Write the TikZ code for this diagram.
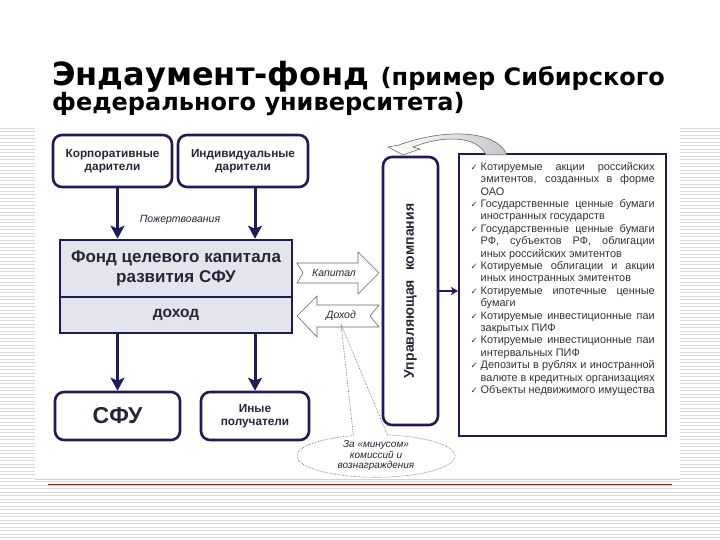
\documentclass[tikz,border=0pt]{standalone}
\usepackage{fontspec}
\setmainfont{Liberation Sans}
\newfontfamily\titlefont{DejaVu Sans}
\newfontfamily\checkfont{DejaVu Sans}
\usetikzlibrary{arrows.meta,positioning,shapes.callouts,calc}
\definecolor{navyline}{RGB}{28,28,92}
\definecolor{inkdark}{RGB}{38,38,58}
\definecolor{fundgray}{RGB}{228,228,236}
\definecolor{stripegray}{RGB}{218,218,218}
\definecolor{rulered}{RGB}{150,30,30}
\newcommand{\chkitem}{\par\hangindent=10pt\hangafter=1\noindent\hbox to 10pt{\checkfont\fontsize{8.5}{10}\selectfont ✓\hss}}

\begin{document}
\begin{tikzpicture}[
  x=1pt, y=-1pt,
  font=\fontsize{11.8}{13.5}\selectfont\bfseries,
  box/.style={draw=navyline, line width=2.6pt, rounded corners=9pt, align=center, text=inkdark, inner sep=2pt},
  fundbox/.style={draw=navyline, line width=2.6pt, fill=fundgray, align=center, text=inkdark, inner sep=2pt},
  arr/.style={-{Stealth[length=13pt,width=14pt,inset=3pt]}, line width=3pt, draw=navyline},
  thinarr/.style={-{Stealth[length=7pt,width=8pt,inset=2pt]}, line width=1.6pt, draw=navyline},
  flow/.style={draw=gray!80!black, line width=0.6pt, fill=white},
  flowlbl/.style={font=\fontsize{10.5}{12}\selectfont\itshape, text=inkdark}
]
\useasboundingbox (0,0) rectangle (720,540);
% slide background
\fill[white] (0,0) rectangle (720,540);
\foreach \y in {128,131.5,...,540}
  \draw[stripegray, line width=0.7pt] (0,\y) -- (720,\y);
\fill[white] (35,128) rectangle (680,479);
\draw[gray!35] (35,479) -- (680,479);
\draw[rulered, line width=1pt] (48,484) -- (672,484);

% title
\node[anchor=base west, inner sep=0pt, font=\titlefont\bfseries\fontsize{32}{34}\selectfont] (title) at (52,86)
  {Эндаумент-фонд {\fontsize{24}{26}\selectfont(пример Сибирского}};
\node[anchor=base west, inner sep=0pt, font=\titlefont\bfseries\fontsize{24}{26}\selectfont] (subtitle) at (52,111)
  {федерального университета)};

% donors and fund
\node[box, minimum width=119pt, minimum height=52pt] (corp) at (112.5,161) {Корпоративные\\дарители};
\node[box, minimum width=130pt, minimum height=52pt] (indiv) at (243,161) {Индивидуальные\\дарители};
\node[fundbox, minimum width=232pt, minimum height=57pt, font=\fontsize{17}{19.5}\selectfont\bfseries] (fund) at (176,268.5) {Фонд целевого капитала\\развития СФУ};
\node[fundbox, minimum width=232pt, minimum height=36pt, font=\fontsize{15.5}{18}\selectfont\bfseries, below=-2.6pt of fund] (income) {доход};
\node[box, minimum width=125pt, minimum height=48pt, font=\fontsize{23}{25}\selectfont\bfseries] (sfu) at (117.5,416) {СФУ};
\node[box, minimum width=108pt, minimum height=48pt] (others) at (255,416) {Иные\\получатели};

\draw[arr] (corp.south -| sfu.north) -- (fund.north -| sfu.north);
\draw[arr] (indiv.south -| others.north) -- (fund.north -| others.north);
\node[flowlbl] (gifts) at (180,220) {Пожертвования};
\draw[arr] (income.south -| sfu.north) -- (sfu.north);
\draw[arr] (income.south -| others.north) -- (others.north);

% capital / income flows
\draw[flow] (297,263) -- (358,263) -- (358,252) -- (379,273) -- (358,294) -- (358,283) -- (297,283) -- (303,273) -- cycle;
\node[flowlbl] (capital) at (334,273) {Капитал};
\draw[flow] (297,316) -- (317,296) -- (317,305) -- (379,305) -- (370,316) -- (379,327) -- (317,327) -- (317,337) -- cycle;
\node[flowlbl] (yield) at (341,316) {Доход};

% management company and assets
\node[box, rotate=90, minimum width=268pt, minimum height=55pt, font=\fontsize{14}{16}\selectfont\bfseries] (mgmt) at (410.5,291)
  {Управляющая\hspace{9pt}компания};
\node[draw=navyline, line width=2.4pt, anchor=north west, text width=184pt, align=justify, inner xsep=11.5pt, inner ysep=8pt,
      font=\fontsize{10.9}{12.4}\selectfont, text=black!80] (assets) at (458,153)
  {\vbox to 266pt{\tolerance=10000 \hyphenpenalty=10000 \exhyphenpenalty=10000
   \chkitem Котируемые акции российских\linebreak эмитентов, созданных в форме\linebreak ОАО
   \chkitem Государственные ценные бумаги\linebreak иностранных государств
   \chkitem Государственные ценные бумаги\linebreak РФ, субъектов РФ, облигации\linebreak иных российских эмитентов
   \chkitem Котируемые облигации и акции\linebreak иных иностранных эмитентов
   \chkitem Котируемые ипотечные ценные\linebreak бумаги
   \chkitem Котируемые инвестиционные паи\linebreak закрытых ПИФ
   \chkitem Котируемые инвестиционные паи\linebreak интервальных ПИФ
   \chkitem Депозиты в рублях и иностранной\linebreak валюте в кредитных организациях
   \chkitem Объекты недвижимого имущества\par\vfill}};
\draw[thinarr] (mgmt.south) -- (mgmt.south -| assets.west);

% reinvestment loop
\draw[gray!70!black, line width=0.5pt, left color=white, right color=gray!45]
  (507,155) .. controls (497,130) and (445,128) .. (399,145) -- (388,147) -- (403,155) -- (420,149) -- (413,147)
  .. controls (447,134) and (478,137) .. (486,155) -- cycle;

% note
\node[ellipse callout, draw=gray!70!black, densely dotted, line width=0.6pt, minimum width=158pt, minimum height=42pt,
      inner sep=0pt, callout absolute pointer={(yield.south)}, callout pointer arc=25, align=center,
      font=\fontsize{10}{10.5}\selectfont\itshape, text=inkdark] (note) at (376,456)
  {За «минусом»\\комиссий и\\вознаграждения};
\end{tikzpicture}
\end{document}
